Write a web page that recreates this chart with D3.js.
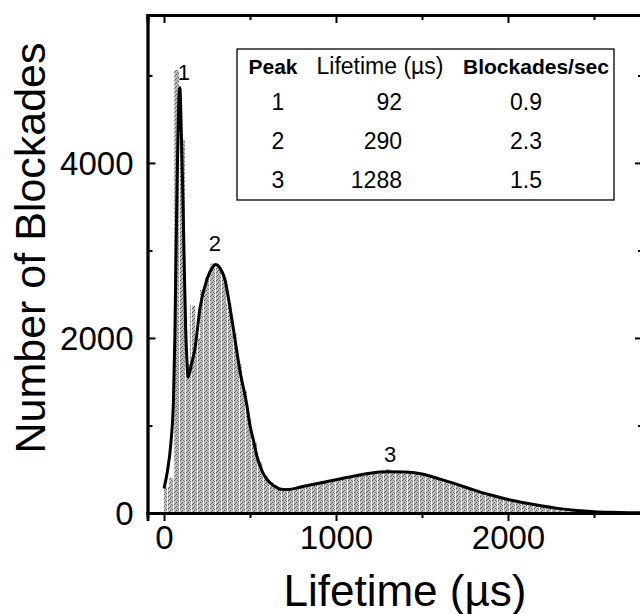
<!DOCTYPE html>
<html>
<head>
<meta charset="utf-8">
<script src="https://cdn.jsdelivr.net/npm/d3@7"></script>
<style>
  body { margin: 0; background: #fff; }
  svg { display: block; font-family: "Liberation Sans", Arial, sans-serif; }
</style>
</head>
<body>
<svg id="chart" width="640" height="614"></svg>
<script>
// histogram counts, 30 us bins starting at 0
var binWidth = 30;
var histCounts = [300, 400, 5060, 4260, 1700, 2370, 2000, 2550, 2700, 2850,
  2800, 2700, 2400, 2050, 1700, 1400, 1080, 800, 580, 430,
  350, 300, 270, 265, 270, 280, 295, 305, 315, 330,
  340, 350, 365, 380, 390, 400, 415, 430, 440, 450,
  460, 470, 480, 500, 475, 470, 465, 460, 450, 440,
  430, 415, 395, 380, 360, 345, 325, 305, 290, 270,
  250, 230, 215, 200, 185, 170, 155, 140, 125, 115,
  100, 90, 80, 70, 60, 55, 45, 40, 35, 30,
  25, 20, 18, 15, 12, 10, 8, 7, 6, 5,
  4, 3, 3];

// fitted curve (lifetime in us, count)
var fitX = [0, 20, 40, 55, 63, 70, 78, 86, 92, 100, 110, 118, 126, 133, 140,
  160, 180, 210, 250, 280, 300, 325, 355, 385, 413, 440, 480, 500, 520, 540,
  570, 600, 640, 680, 720, 800, 900, 1000, 1100, 1200, 1300, 1400, 1500, 1600,
  1700, 1800, 1900, 2000, 2100, 2200, 2300, 2400, 2500, 2600, 2700, 2800];
var fitY = [280, 480, 800, 1300, 2000, 3000, 4000, 4700, 4860, 4400, 3600, 2800, 2100, 1750, 1554,
  1700, 1880, 2350, 2670, 2800, 2840, 2800, 2660, 2330, 1980, 1640, 1250, 1000, 830, 650,
  480, 380, 310, 270, 268, 300, 340, 380, 420, 455, 470, 468, 445, 390,
  330, 265, 205, 155, 115, 80, 50, 28, 15, 8, 4, 2];

var peakIds = ["1", "2", "3"];
var peakLifetimes = [92, 290, 1288];
var peakRates = ["0.9", "2.3", "1.5"];
var peakLabelX = [116, 296, 1314];
var peakLabelY = [4950, 2990, 585];

var xTicks = [0, 1000, 2000];
var xMinor = [500, 1500, 2500];
var yTicks = [0, 2000, 4000];
var yMinor = [1000, 3000, 5000];

var svg = d3.select('#chart');

var x = d3.scaleLinear().domain([-96, 2785]).range([147.5, 643]);
var y = d3.scaleLinear().domain([0, 5690]).range([513, 15]);

// halftone-like fill for the histogram
var defs = svg.append('defs');
var pat = defs.append('pattern')
  .attr('id', 'dots')
  .attr('patternUnits', 'userSpaceOnUse')
  .attr('width', 6)
  .attr('height', 4);
pat.append('rect').attr('width', 6).attr('height', 4).attr('fill', '#bdbdbd');
pat.append('rect').attr('x', 0).attr('y', 0).attr('width', 1).attr('height', 1).attr('fill', '#4a4a4a');
pat.append('rect').attr('x', 2).attr('y', 2).attr('width', 1).attr('height', 1).attr('fill', '#555');
pat.append('rect').attr('x', 4).attr('y', 1).attr('width', 1).attr('height', 1).attr('fill', '#666');
pat.append('rect').attr('x', 1).attr('y', 3).attr('width', 1).attr('height', 1).attr('fill', '#6a6a6a');
pat.append('rect').attr('x', 3).attr('y', 0).attr('width', 1).attr('height', 1).attr('fill', '#777');
pat.append('rect').attr('x', 5).attr('y', 0).attr('width', 1).attr('height', 4).attr('fill', '#f2f2f2');

// histogram bars
svg.append('g')
  .selectAll('rect')
  .data(histCounts)
  .enter()
  .append('rect')
  .attr('x', function(d, i){ return x(i*binWidth); })
  .attr('width', function(d, i){ return x((i+1)*binWidth) - x(i*binWidth) + 0.3; })
  .attr('y', function(d){ return y(d); })
  .attr('height', function(d){ return y(0) - y(d); })
  .attr('fill', 'url(#dots)');

// fit curve
var fitPts = fitX.map(function(v, i){ return [v, fitY[i]]; });
var line = d3.line()
  .x(function(d){ return x(d[0]); })
  .y(function(d){ return y(d[1]); })
  .curve(d3.curveMonotoneX);
svg.append('path')
  .datum(fitPts)
  .attr('d', line)
  .attr('fill', 'none')
  .attr('stroke', '#000')
  .attr('stroke-width', 3)
  .attr('stroke-linejoin', 'round');

// axes
var axisW = 2.8;
var bottom = svg.append('g').attr('transform', 'translate(0,' + y(0) + ')');
bottom.call(d3.axisBottom(x).tickValues(xTicks).tickSize(8).tickFormat(d3.format('d')));
var bottomMinor = svg.append('g').attr('transform', 'translate(0,' + y(0) + ')')
  .call(d3.axisBottom(x).tickValues(xMinor).tickSize(5).tickFormat(''));

var left = svg.append('g').attr('transform', 'translate(' + x.range()[0] + ',0)');
left.call(d3.axisLeft(y).tickValues(yTicks).tickSize(-8).tickPadding(14).tickFormat(d3.format('d')));
var leftMinor = svg.append('g').attr('transform', 'translate(' + x.range()[0] + ',0)')
  .call(d3.axisLeft(y).tickValues(yMinor).tickSize(-5).tickFormat(''));

var top = svg.append('g').attr('transform', 'translate(0,' + y.range()[1] + ')')
  .call(d3.axisTop(x).tickValues(xTicks).tickSize(-8).tickFormat(''));
var topMinor = svg.append('g').attr('transform', 'translate(0,' + y.range()[1] + ')')
  .call(d3.axisTop(x).tickValues(xMinor).tickSize(-5).tickFormat(''));

var right = svg.append('g').attr('transform', 'translate(' + x.range()[1] + ',0)')
  .call(d3.axisRight(y).tickValues(yTicks).tickSize(-8).tickFormat(''));
var rightMinor = svg.append('g').attr('transform', 'translate(' + x.range()[1] + ',0)')
  .call(d3.axisRight(y).tickValues(yMinor).tickSize(-5).tickFormat(''));

svg.selectAll('.domain').attr('stroke', '#000').attr('stroke-width', axisW);
svg.selectAll('.tick line').attr('stroke', '#000').attr('stroke-width', 2);
svg.selectAll('.tick text')
  .attr('fill', '#000')
  .style('font-size', '33px')
  .style('font-family', '"Liberation Sans", Arial, sans-serif');
bottom.selectAll('.tick text').attr('dy', '0.95em').attr('y', 5);
left.selectAll('.tick text').attr('dy', '0.36em');

// axis titles
svg.append('text')
  .attr('x', 405)
  .attr('y', 606)
  .attr('text-anchor', 'middle')
  .style('font-size', '44px')
  .text('Lifetime (\u00b5s)');

svg.append('text')
  .attr('transform', 'translate(45,' + 248 + ') rotate(-90)')
  .attr('text-anchor', 'middle')
  .style('font-size', '43px')
  .text('Number of Blockades');

// peak labels
svg.append('g')
  .selectAll('text')
  .data(peakIds)
  .enter()
  .append('text')
  .attr('x', function(d, i){ return x(peakLabelX[i]); })
  .attr('y', function(d, i){ return y(peakLabelY[i]); })
  .attr('text-anchor', 'middle')
  .style('font-size', '22px')
  .text(function(d){ return d; });

// inset table
var tbl = svg.append('g');
tbl.append('rect')
  .attr('x', 237).attr('y', 49)
  .attr('width', 377).attr('height', 151)
  .attr('fill', '#fff')
  .attr('stroke', '#000')
  .attr('stroke-width', 1.3);

tbl.append('text').attr('x', 273).attr('y', 74).attr('text-anchor', 'middle')
  .style('font-size', '21px').style('font-weight', 'bold').text('Peak');
tbl.append('text').attr('x', 380).attr('y', 74).attr('text-anchor', 'middle')
  .style('font-size', '23px').text('Lifetime (\u00b5s)');
tbl.append('text').attr('x', 536).attr('y', 74).attr('text-anchor', 'middle')
  .style('font-size', '21px').style('font-weight', 'bold').text('Blockades/sec');

var rowY = [110, 149, 188];
peakIds.forEach(function(p, i){
  tbl.append('text').attr('x', 278).attr('y', rowY[i]).attr('text-anchor', 'middle')
    .style('font-size', '23px').text(p);
  tbl.append('text').attr('x', 402).attr('y', rowY[i]).attr('text-anchor', 'end')
    .style('font-size', '23px').text(peakLifetimes[i]);
  tbl.append('text').attr('x', 526).attr('y', rowY[i]).attr('text-anchor', 'middle')
    .style('font-size', '23px').text(peakRates[i]);
});
</script>
</body>
</html>
